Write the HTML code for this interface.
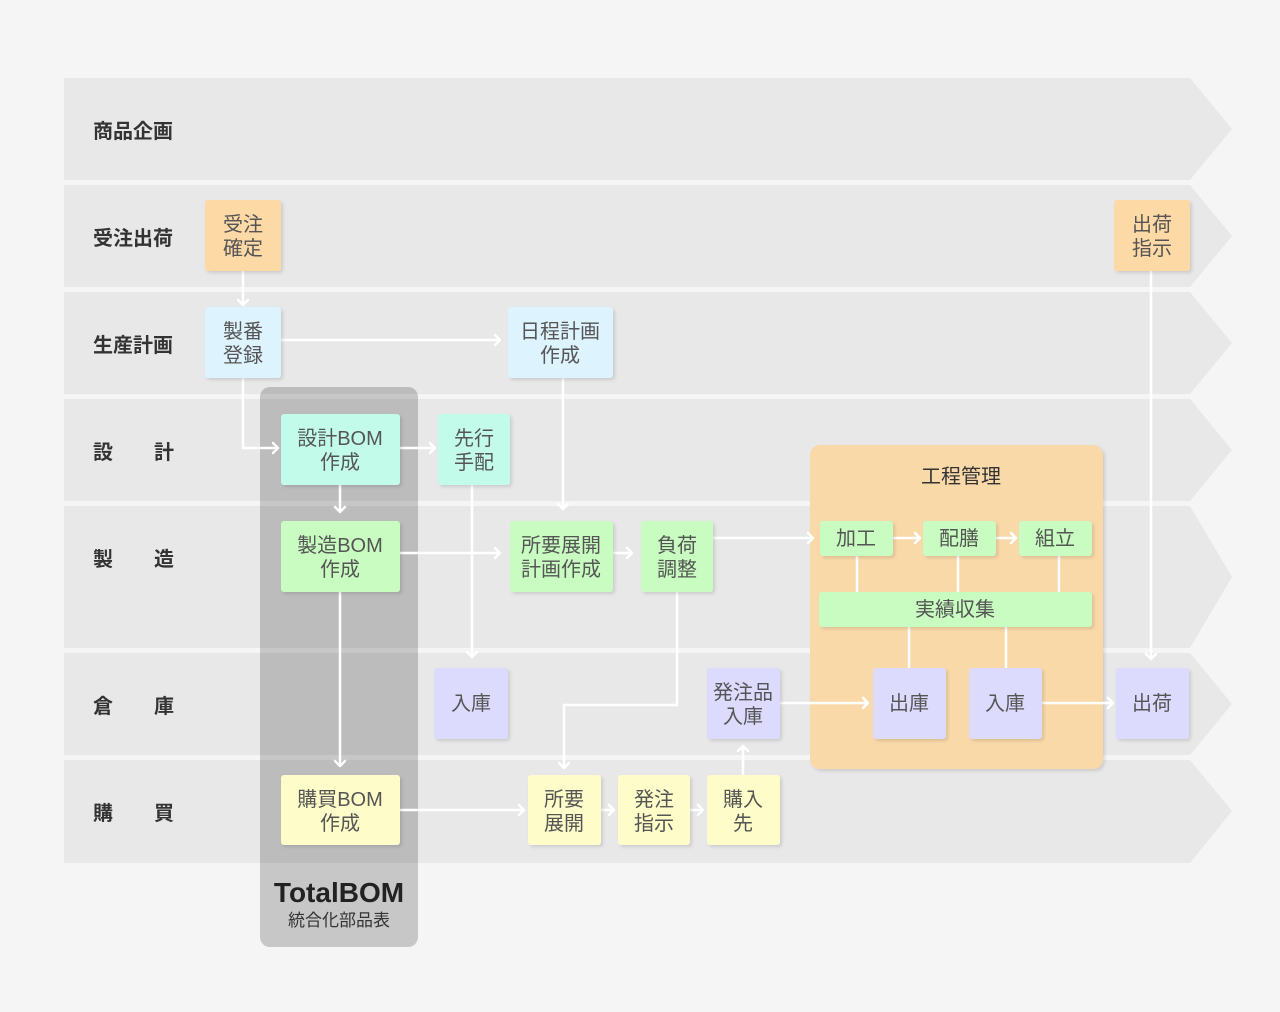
<!DOCTYPE html>
<html><head><meta charset="utf-8"><style>
html,body{margin:0;padding:0;background:#f5f5f5;}
svg{display:block;font-family:"Liberation Sans","Noto Sans CJK JP",sans-serif;}
.lane{fill:#e8e8e8;}
.lbl{font-size:20px;fill:#333;font-weight:bold;}
.nt{font-size:20px;fill:#555;text-anchor:middle;}
.ln{stroke:#fff;stroke-width:2.5;fill:none;}
.ah{stroke:#fff;stroke-width:2.5;fill:none;stroke-linecap:round;stroke-linejoin:round;}
</style></head><body>
<svg width="1280" height="1012" viewBox="0 0 1280 1012">
<defs><filter id="sh" x="-10%" y="-10%" width="130%" height="130%"><feDropShadow dx="2" dy="2" stdDeviation="1.5" flood-color="#000" flood-opacity="0.12"/></filter></defs>
<polygon class="lane" points="64,78 1190,78 1232,129 1190,180 64,180"/>
<polygon class="lane" points="64,185 1190,185 1232,236 1190,287 64,287"/>
<polygon class="lane" points="64,292 1190,292 1232,343 1190,394 64,394"/>
<polygon class="lane" points="64,399 1190,399 1232,450 1190,501 64,501"/>
<polygon class="lane" points="64,506 1190,506 1232,577 1190,648 64,648"/>
<polygon class="lane" points="64,653 1190,653 1232,704 1190,755 64,755"/>
<polygon class="lane" points="64,760 1190,760 1232,811 1190,863 64,863"/>
<text class="lbl" x="93" y="138">商品企画</text>
<text class="lbl" x="93" y="245">受注出荷</text>
<text class="lbl" x="93" y="352">生産計画</text>
<text class="lbl" x="93" y="459">設</text><text class="lbl" x="154" y="459">計</text>
<text class="lbl" x="93" y="566">製</text><text class="lbl" x="154" y="566">造</text>
<text class="lbl" x="93" y="713">倉</text><text class="lbl" x="154" y="713">庫</text>
<text class="lbl" x="93" y="820">購</text><text class="lbl" x="154" y="820">買</text>
<rect x="260" y="387" width="158" height="560" rx="10" fill="rgba(0,0,0,0.19)"/>
<text x="339" y="902" text-anchor="middle" font-size="28" font-weight="bold" fill="#222">TotalBOM</text>
<text x="339" y="926" text-anchor="middle" font-size="17" fill="#333">統合化部品表</text>
<rect x="810" y="445" width="293" height="324" rx="10" fill="#fad9a9" filter="url(#sh)"/>
<text x="961" y="483" text-anchor="middle" font-size="20" fill="#333">工程管理</text>
<g class="ln">
<path d="M243,271V305"/><path d="M281,340H500"/><path d="M243,378V448H278"/>
<path d="M400,448H435"/><path d="M340,485V512"/><path d="M563,378V509"/>
<path d="M472,485V657"/><path d="M400,553H500"/><path d="M613,553H632"/>
<path d="M713,538H813"/><path d="M677,592V705H564V768"/><path d="M340,592V766"/>
<path d="M400,810H524"/><path d="M601,810H614"/><path d="M690,810H703"/>
<path d="M743,775V746"/><path d="M780,703H868"/><path d="M1042,703H1113"/>
<path d="M1151,271V659"/><path d="M893,538H920"/><path d="M996,538H1016"/>
<path d="M857,556V592"/><path d="M958,556V592"/><path d="M1059,556V592"/>
<path d="M909,627V668"/><path d="M1006,627V668"/>
</g>
<g class="ah">
<path d="M238,300L243,305L248,300"/><path d="M495,335L500,340L495,345"/><path d="M273,443L278,448L273,453"/>
<path d="M430,443L435,448L430,453"/><path d="M335,507L340,512L345,507"/><path d="M558,504L563,509L568,504"/>
<path d="M467,652L472,657L477,652"/><path d="M495,548L500,553L495,558"/><path d="M627,548L632,553L627,558"/>
<path d="M808,533L813,538L808,543"/><path d="M559,763L564,768L569,763"/><path d="M335,761L340,766L345,761"/>
<path d="M519,805L524,810L519,815"/><path d="M609,805L614,810L609,815"/><path d="M698,805L703,810L698,815"/>
<path d="M738,751L743,746L748,751"/><path d="M863,698L868,703L863,708"/><path d="M1108,698L1113,703L1108,708"/>
<path d="M1146,654L1151,659L1156,654"/><path d="M915,533L920,538L915,543"/><path d="M1011,533L1016,538L1011,543"/>
</g>
<g filter="url(#sh)">
<rect x="205" y="200" width="76" height="71" rx="3" fill="#fdd9a6"/>
<rect x="1114" y="200" width="76" height="71" rx="3" fill="#fdd9a6"/>
<rect x="205" y="307" width="76" height="71" rx="3" fill="#ddf3fd"/>
<rect x="508" y="307" width="105" height="71" rx="3" fill="#ddf3fd"/>
<rect x="281" y="414" width="119" height="71" rx="3" fill="#c3fbea"/>
<rect x="438" y="414" width="72" height="71" rx="3" fill="#c3fbea"/>
<rect x="281" y="521" width="119" height="71" rx="3" fill="#c8fcc0"/>
<rect x="510" y="521" width="103" height="71" rx="3" fill="#c8fcc0"/>
<rect x="641" y="521" width="72" height="71" rx="3" fill="#c8fcc0"/>
<rect x="820" y="521" width="73" height="35" rx="3" fill="#c8fcc0"/>
<rect x="923" y="521" width="73" height="35" rx="3" fill="#c8fcc0"/>
<rect x="1019" y="521" width="73" height="35" rx="3" fill="#c8fcc0"/>
<rect x="819" y="592" width="273" height="35" rx="3" fill="#c8fcc0"/>
<rect x="873" y="668" width="73" height="71" rx="3" fill="#dcdafd"/>
<rect x="969" y="668" width="73" height="71" rx="3" fill="#dcdafd"/>
<rect x="1116" y="668" width="73" height="71" rx="3" fill="#dcdafd"/>
<rect x="434" y="668" width="74" height="71" rx="3" fill="#dcdafd"/>
<rect x="707" y="668" width="73" height="71" rx="3" fill="#dcdafd"/>
<rect x="281" y="775" width="119" height="70" rx="3" fill="#fefcc8"/>
<rect x="528" y="775" width="73" height="70" rx="3" fill="#fefcc8"/>
<rect x="618" y="775" width="72" height="70" rx="3" fill="#fefcc8"/>
<rect x="707" y="775" width="73" height="70" rx="3" fill="#fefcc8"/>
</g>
<g class="nt">
<text x="243" y="231">受注</text><text x="243" y="255">確定</text>
<text x="1152" y="231">出荷</text><text x="1152" y="255">指示</text>
<text x="243" y="338">製番</text><text x="243" y="362">登録</text>
<text x="560" y="338">日程計画</text><text x="560" y="362">作成</text>
<text x="340" y="445">設計BOM</text><text x="340" y="469">作成</text>
<text x="474" y="445">先行</text><text x="474" y="469">手配</text>
<text x="340" y="552">製造BOM</text><text x="340" y="576">作成</text>
<text x="561" y="552">所要展開</text><text x="561" y="576">計画作成</text>
<text x="677" y="552">負荷</text><text x="677" y="576">調整</text>
<text x="856" y="545">加工</text><text x="959" y="545">配膳</text><text x="1055" y="545">組立</text>
<text x="955" y="616">実績収集</text>
<text x="909" y="710">出庫</text><text x="1005" y="710">入庫</text><text x="1152" y="710">出荷</text>
<text x="471" y="710">入庫</text>
<text x="743" y="699">発注品</text><text x="743" y="723">入庫</text>
<text x="340" y="806">購買BOM</text><text x="340" y="830">作成</text>
<text x="564" y="806">所要</text><text x="564" y="830">展開</text>
<text x="654" y="806">発注</text><text x="654" y="830">指示</text>
<text x="743" y="806">購入</text><text x="743" y="830">先</text>
</g>
</svg>
</body></html>
